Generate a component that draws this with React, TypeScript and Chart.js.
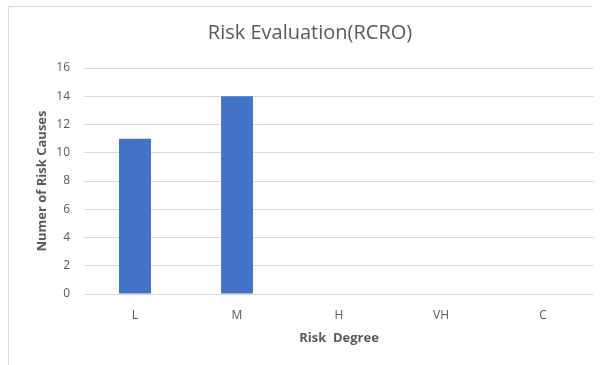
import React, { useEffect, useRef } from "react";
import { Chart, registerables } from "chart.js";

Chart.register(...registerables);

const categories = ["L", "M", "H", "VH", "C"];
const counts = [11, 14, 0, 0, 0];
const yTicksMin = 0;
const yTicksMax = 16;
const yTickStep = 2;

const chartTitle = "Risk Evaluation(RCRO)";
const xTitle = "Risk  Degree";
const yTitle = "Numer of Risk Causes";

const FONT = "'Open Sans', 'Noto Sans', sans-serif";

const borderPlugin = {
  id: "frameBorder",
  beforeDraw(chart: any) {
    const ctx = chart.ctx;
    ctx.save();
    ctx.strokeStyle = "#d9d9d9";
    ctx.lineWidth = 1;
    ctx.beginPath();
    ctx.moveTo(8.5, 365);
    ctx.lineTo(8.5, 6.5);
    ctx.lineTo(592, 6.5);
    ctx.stroke();
    ctx.restore();
  },
};

export default function App() {
  const ref = useRef<HTMLCanvasElement>(null);
  useEffect(() => {
    if (!ref.current) return;
    const chart = new Chart(ref.current, {
      type: "bar",
      data: {
        labels: categories,
        datasets: [
          {
            data: counts,
            backgroundColor: "#4472C4",
            borderWidth: 0,
            barPercentage: 1,
            categoryPercentage: 0.313,
          },
        ],
      },
      options: {
        animation: false,
        responsive: false,
        devicePixelRatio: 1,
        layout: { padding: { left: 26, right: 7, top: 0, bottom: 0 } },
        plugins: {
          legend: { display: false },
          tooltip: { enabled: false },
          title: {
            display: true,
            text: chartTitle,
            color: "#595959",
            font: { family: FONT, size: 20, weight: "normal" },
            padding: { top: 21, bottom: 23 },
          },
        },
        scales: {
          x: {
            grid: { display: false },
            border: { display: false },
            ticks: {
              color: "#595959",
              font: { family: FONT, size: 12 },
              padding: 6,
            },
            title: {
              display: true,
              text: xTitle,
              color: "#595959",
              font: { family: FONT, size: 13, weight: "bold" },
              padding: { top: 0, bottom: 19 },
            },
            afterFit(scale: any) {
              scale.height = 71;
            },
          },
          y: {
            min: yTicksMin,
            max: yTicksMax,
            grid: { color: "#d9d9d9", drawTicks: false, lineWidth: 1 },
            border: { display: false },
            ticks: {
              stepSize: yTickStep,
              color: "#595959",
              font: { family: FONT, size: 12 },
              padding: 14,
            },
            title: {
              display: true,
              text: yTitle,
              color: "#595959",
              font: { family: FONT, size: 13, weight: "bold" },
              padding: { top: 8, bottom: 0 },
            },
            afterFit(scale: any) {
              scale.width = 58;
            },
          },
        },
      },
      plugins: [borderPlugin],
    });
    return () => chart.destroy();
  }, []);
  return (
    <div style={{ position: "fixed", left: 0, top: 0, width: 601, height: 365, background: "#fff" }}>
      <canvas ref={ref} width={601} height={365} style={{ display: "block" }} />
    </div>
  );
}
